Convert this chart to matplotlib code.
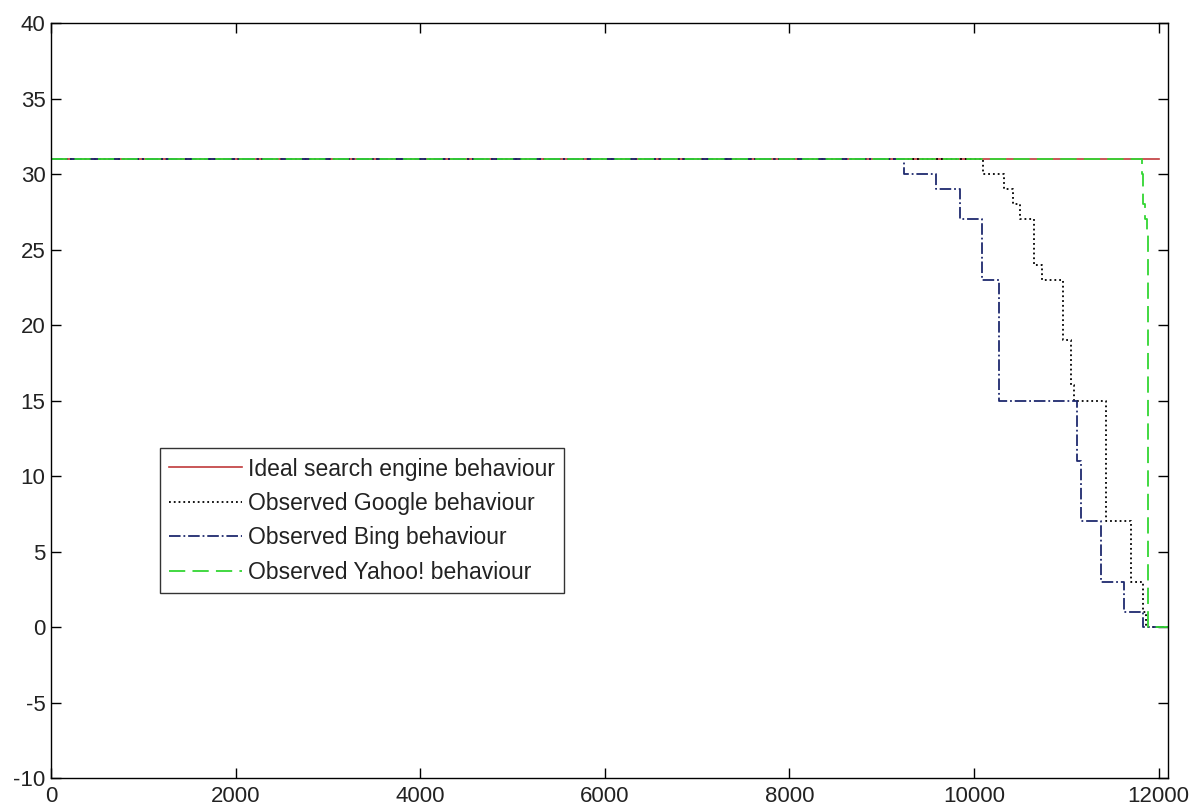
import matplotlib.pyplot as plt

plt.rcParams['font.family'] = ['Liberation Sans', 'DejaVu Sans']
plt.rcParams['axes.unicode_minus'] = False

# ideal behaviour
ideal_x = [0, 12000]
ideal_y = [31, 31]

# observed Google (step values)
google_x = [0, 10100, 10320, 10420, 10500, 10645, 10740, 10960, 11050, 11080, 11425, 11705, 11835, 11860, 12100]
google_y = [31, 30, 29, 28, 27, 24, 23, 19, 16, 15, 7, 3, 1, 0, 0]

# observed Bing
bing_x = [0, 9236, 9583, 9843, 10090, 10270, 11120, 11160, 11370, 11620, 11826, 12100]
bing_y = [31, 30, 29, 27, 23, 15, 11, 7, 3, 1, 0, 0]

# observed Yahoo!
yahoo_x = [0, 11820, 11835, 11850, 11868, 11880, 12100]
yahoo_y = [31, 30, 28, 27, 26, 0, 0]

fig = plt.figure(figsize=(11.93, 8.08), dpi=100)
ax = fig.add_axes([0.0427, 0.0371, 0.9363, 0.9344])

ax.plot(ideal_x, ideal_y, '-', color='#c0393b', lw=1.2, label='Ideal search engine behaviour')
ax.plot(google_x, google_y, ':', color='black', lw=1.3, drawstyle='steps-post',
        label='Observed Google behaviour')
ax.plot(bing_x, bing_y, '-.', color='#1f2a6e', lw=1.3, drawstyle='steps-post',
        label='Observed Bing behaviour')
ax.plot(yahoo_x, yahoo_y, '--', color='#33d633', lw=1.3, drawstyle='steps-post',
        dashes=(9, 4), label='Observed Yahoo! behaviour')

ax.set_xlim(0, 12100)
ax.set_ylim(-10, 40)
ax.set_xticks(range(0, 12001, 2000))
ax.set_yticks(range(-10, 41, 5))
ax.tick_params(direction='in', length=7, width=1, top=True, right=True,
               labelsize=16, colors='black', labelcolor='#222222', pad=4)
ax.tick_params(axis='x', pad=6)
for s in ax.spines.values():
    s.set_linewidth(1.0)

leg = ax.legend(loc='lower left', bbox_to_anchor=(0.0976, 0.245), borderaxespad=0,
                fontsize=16.5, handlelength=3.2, handletextpad=0.25, labelspacing=0.5,
                borderpad=0.4, fancybox=False, framealpha=1, edgecolor='#333333')
leg.get_frame().set_linewidth(1.0)
for t in leg.get_texts():
    t.set_color('#222222')

fig.savefig('out.png', dpi=100)
